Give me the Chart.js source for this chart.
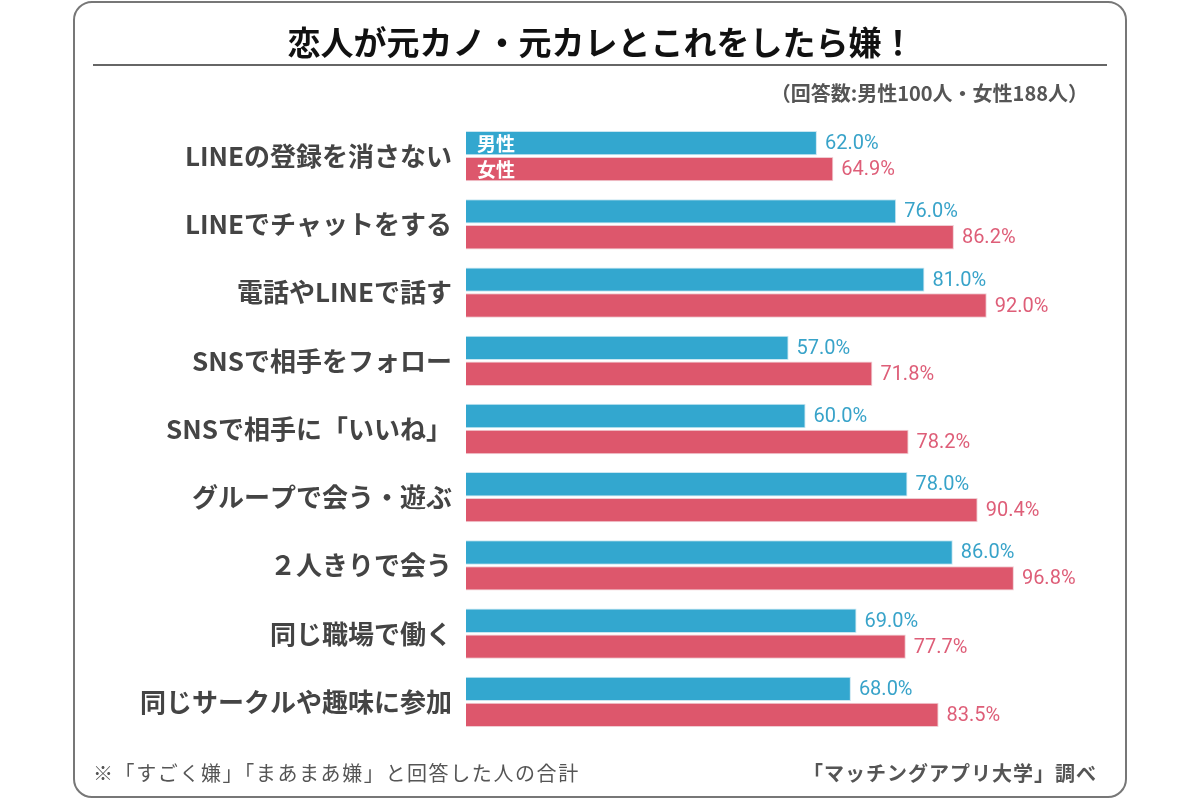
<!DOCTYPE html>
<html>
<head>
<meta charset="utf-8">
<script src="https://cdn.jsdelivr.net/npm/chart.js@4"></script>
<style>
  body { margin: 0; background: #fff; }
  #wrap { width: 1200px; height: 800px; }
</style>
</head>
<body>
<div id="wrap"><canvas id="myChart" width="1200" height="800"></canvas></div>
<script>
let categories = ['LINEの登録を消さない', 'LINEでチャットをする', '電話やLINEで話す', 'SNSで相手をフォロー',
  'SNSで相手に「いいね」', 'グループで会う・遊ぶ', '２人きりで会う', '同じ職場で働く', '同じサークルや趣味に参加'];
let seriesNames = ['男性', '女性'];
let maleValues = [62.0, 76.0, 81.0, 57.0, 60.0, 78.0, 86.0, 69.0, 68.0];
let femaleValues = [64.9, 86.2, 92.0, 71.8, 78.2, 90.4, 96.8, 77.7, 83.5];
let colorHex = ['#33a7cf', '#dd576c'];
let textHex = ['#38a3c9', '#de5e78'];

const JP = '"Noto Sans CJK JP", "Noto Sans", sans-serif';

// card, title, notes
const frame = {
  id: 'frame',
  beforeDraw(chart) {
    const c = chart.ctx;
    c.save();
    c.fillStyle = '#fff';
    c.fillRect(0, 0, chart.width, chart.height);
    c.strokeStyle = '#777';
    c.lineWidth = 2;
    c.beginPath();
    c.roundRect(74, 2, 1052, 795, 18);
    c.stroke();

    c.fillStyle = '#111';
    c.font = 'bold 33px ' + JP;
    c.textAlign = 'center';
    c.textBaseline = 'middle';
    c.fillText('恋人が元カノ・元カレとこれをしたら嫌！', 601, 42);

    c.strokeStyle = '#666';
    c.lineWidth = 2;
    c.beginPath();
    c.moveTo(93, 65);
    c.lineTo(1107, 65);
    c.stroke();

    c.fillStyle = '#555';
    c.font = 'bold 20px ' + JP;
    c.textAlign = 'right';
    c.fillText('（回答数:男性100人・女性188人）', 1088, 93);

    c.letterSpacing = '1.6px';
    c.font = '20px ' + JP;
    c.textAlign = 'left';
    c.fillText('※「すごく嫌」「まあまあ嫌」と回答した人の合計', 93, 773);
    c.letterSpacing = '1px';
    c.font = 'bold 20px ' + JP;
    c.textAlign = 'right';
    c.fillText('「マッチングアプリ大学」調べ', 1097, 773);
    c.restore();
  }
};

// value labels and series names inside first bars
const valueLabels = {
  id: 'valueLabels',
  afterDatasetsDraw(chart) {
    const c = chart.ctx;
    c.save();
    c.textBaseline = 'middle';
    chart.data.datasets.forEach((ds, i) => {
      const meta = chart.getDatasetMeta(i);
      meta.data.forEach((bar, j) => {
        c.fillStyle = textHex[i];
        c.font = '20px Roboto, sans-serif';
        c.textAlign = 'left';
        c.fillText(ds.data[j].toFixed(1) + '%', bar.x + 8, bar.y + 1);
        if (j === 0) {
          c.fillStyle = '#fff';
          c.font = 'bold 19px ' + JP;
          c.fillText(seriesNames[i], 477, bar.y + 1);
        }
      });
    });
    c.restore();
  }
};

let ctx = document.getElementById('myChart').getContext('2d');
let myChart = new Chart(ctx, {
  type: 'bar',
  data: {
    labels: categories,
    datasets: [{
      label: seriesNames[0],
      data: maleValues,
      backgroundColor: colorHex[0],
      borderColor: '#c9e6f1',
      borderWidth: 1
    }, {
      label: seriesNames[1],
      data: femaleValues,
      backgroundColor: colorHex[1],
      borderColor: '#f0cdd3',
      borderWidth: 1
    }]
  },
  options: {
    indexAxis: 'y',
    responsive: false,
    animation: false,
    layout: { padding: { left: 0, top: 122, right: 168, bottom: 64 } },
    scales: {
      x: { display: false, min: 0, max: 100 },
      y: {
        afterFit: (scale) => { scale.width = 466; },
        grid: { display: false, drawTicks: false },
        border: { display: false },
        ticks: {
          padding: 14,
          color: '#444',
          font: { family: JP, size: 26, weight: 'bold' }
        }
      }
    },
    datasets: { bar: { categoryPercentage: 0.76, barPercentage: 0.94 } },
    plugins: {
      legend: { display: false },
      tooltip: { enabled: false }
    }
  },
  plugins: [frame, valueLabels]
});
</script>
</body>
</html>
